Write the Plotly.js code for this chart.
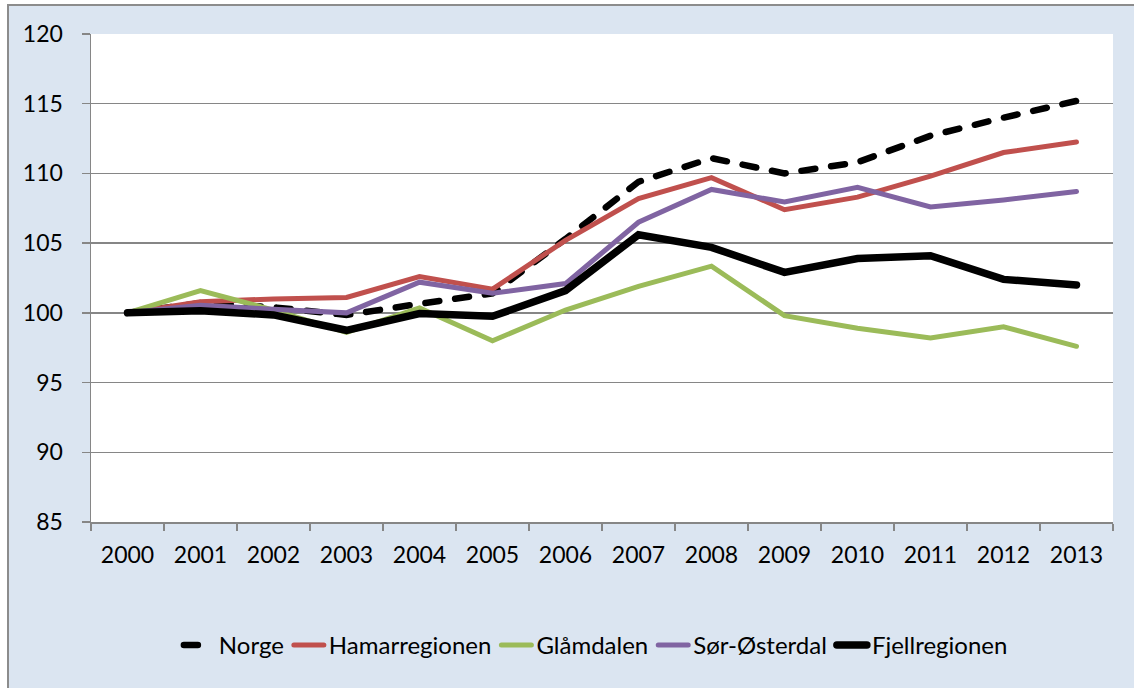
<!DOCTYPE html>
<html>
<head>
<meta charset="utf-8">
<script src="https://cdn.plot.ly/plotly-3.0.1.min.js"></script>
<style>
  html, body { margin: 0; padding: 0; background: #ffffff; overflow: hidden; }
  #frame {
    position: absolute; left: 7px; top: 4px;
    width: 1127px; height: 684px;
    border-left: 2px solid #8c8c8c; border-top: 2px solid #8c8c8c;
    background: #dbe5f1;
  }
  #chart { width: 1125px; height: 682px; }
  .js-line { stroke-linecap: round; }
</style>
</head>
<body>
<div id="frame"><div id="chart"></div></div>
<script>
const years = ["2000","2001","2002","2003","2004","2005","2006","2007","2008","2009","2010","2011","2012","2013"];
const norge        = [100, 100.7, 100.4, 99.85, 100.65, 101.4, 105.3, 109.4, 111.1, 110.0, 110.8, 112.7, 114.0, 115.2];
const hamarregionen = [100, 100.8, 101.0, 101.1, 102.6, 101.7, 105.2, 108.2, 109.7, 107.4, 108.3, 109.8, 111.5, 112.25];
const glamdalen    = [100, 101.6, 100.2, 98.6, 100.35, 98.0, 100.2, 101.9, 103.35, 99.8, 98.9, 98.2, 99.0, 97.6];
const sorOsterdal  = [100, 100.55, 100.25, 100.0, 102.2, 101.4, 102.1, 106.5, 108.85, 107.95, 109.0, 107.6, 108.1, 108.7];
const fjellregionen = [100, 100.15, 99.85, 98.75, 99.95, 99.75, 101.6, 105.6, 104.7, 102.9, 103.9, 104.1, 102.4, 102.0];
const yTicks = [85, 90, 95, 100, 105, 110, 115, 120];

const traces = [
  {name: "Norge", y: norge, line: {color: "#000000", width: 6.5, dash: "14px,16px"}},
  {name: "Hamarregionen", y: hamarregionen, line: {color: "#c0504d", width: 5}},
  {name: "Glåmdalen", y: glamdalen, line: {color: "#9bbb59", width: 5}},
  {name: "Sør-Østerdal", y: sorOsterdal, line: {color: "#8064a2", width: 5}},
  {name: "Fjellregionen", y: fjellregionen, line: {color: "#000000", width: 7.5}}
].map(t => Object.assign({x: years, type: "scatter", mode: "lines", hoverinfo: "skip"}, t));

const layout = {
  width: 1125, height: 682,
  margin: {l: 82, r: 21, t: 28, b: 166},
  paper_bgcolor: "rgba(0,0,0,0)",
  plot_bgcolor: "#ffffff",
  font: {family: "Lato, 'Liberation Sans', sans-serif", size: 23, color: "#000000"},
  showlegend: true,
  xaxis: {
    type: "category",
    range: [-0.5, 13.5],
    tickson: "boundaries",
    ticks: "outside", ticklen: 7, tickwidth: 1.5, tickcolor: "#868686",
    showline: true, linecolor: "#868686", linewidth: 1.5,
    showgrid: false, zeroline: false,
    ticklabelstandoff: 12,
    tickfont: {size: 23}
  },
  yaxis: {
    range: [85, 120],
    tickvals: yTicks,
    ticktext: yTicks.map(String),
    ticks: "outside", ticklen: 8, tickwidth: 1.5, tickcolor: "#868686",
    showline: true, linecolor: "#868686", linewidth: 1.5,
    showgrid: true, gridcolor: "#868686", gridwidth: 1.5,
    zeroline: false,
    ticklabelstandoff: 14,
    tickfont: {size: 23}
  },
  legend: {
    orientation: "h",
    x: 0.494, xanchor: "center",
    y: -0.253, yanchor: "middle",
    bgcolor: "rgba(0,0,0,0)",
    font: {size: 24},
    itemclick: false, itemdoubleclick: false
  }
};

Plotly.newPlot("chart", traces, layout, {staticPlot: true, displayModeBar: false});
</script>
</body>
</html>
